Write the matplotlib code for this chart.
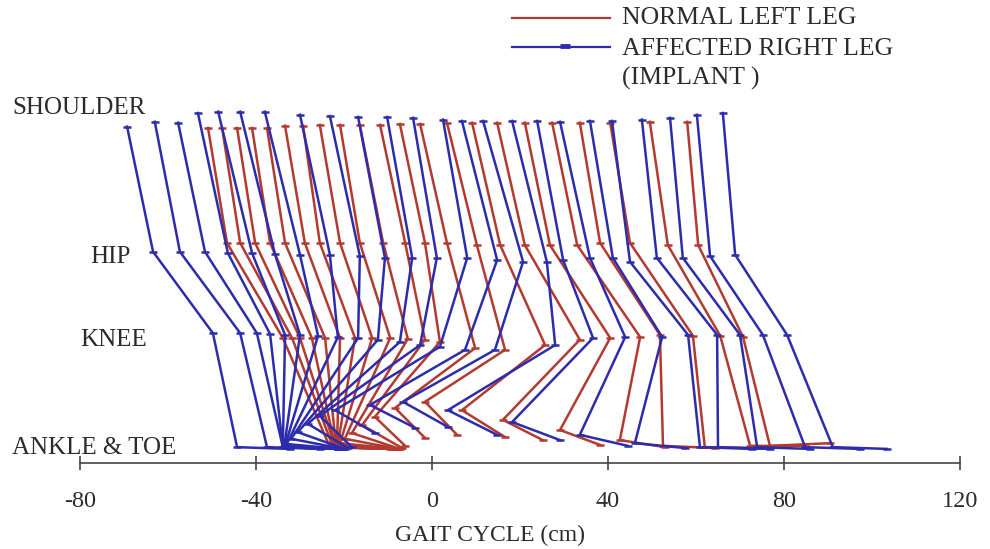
import matplotlib
matplotlib.use("Agg")
import matplotlib.pyplot as plt
from matplotlib.lines import Line2D

plt.rcParams['font.family'] = ['Liberation Serif', 'DejaVu Serif']

# x in cm along the gait cycle, y in cm of height above the axis
# affected right leg (implant) - one stick per frame: shoulder, hip, knee, ankle, toe
blue_shoulder_x = [-69.3, -63.0, -57.7, -53.2, -48.6, -43.6, -38.0, -30.0, -23.2, -16.8, -10.2, -4.3,
                   2.5, 6.8, 11.6, 18.2, 23.9, 29.1, 35.9, 40.9, 47.7, 54.1, 60.2, 66.1]
blue_shoulder_y = [76.4, 77.5, 77.3, 79.5, 79.8, 79.8, 79.8, 79.1, 78.8, 78.6, 78.6, 78.4,
                   78.0, 77.7, 77.7, 77.7, 77.7, 77.5, 77.7, 77.7, 78.0, 78.4, 79.1, 79.5]
blue_hip_x = [-63.4, -57.3, -51.6, -46.4, -40.9, -35.7, -30.0, -23.2, -16.4, -10.7, -4.5, 1.1,
              8.0, 14.8, 20.7, 26.1, 29.8, 35.9, 41.1, 45.0, 51.1, 57.0, 63.2, 68.9]
blue_hip_y = [48.0, 48.0, 48.0, 47.7, 47.7, 47.5, 47.3, 47.3, 47.0, 46.6, 46.6, 46.6,
              46.6, 46.1, 45.7, 45.7, 46.1, 46.6, 46.6, 45.7, 46.6, 46.6, 47.0, 47.3]
blue_knee_x = [-49.8, -43.6, -39.8, -36.8, -33.4, -30.0, -25.9, -21.4, -16.8, -12.3, -7.3, -2.7,
               1.8, 7.5, 14.3, 28.0, 36.6, 43.9, 52.3, 58.2, 64.8, 70.0, 75.2, 80.7]
blue_knee_y = [29.5, 29.5, 29.5, 29.3, 29.1, 29.1, 28.9, 28.6, 28.4, 28.0, 27.5, 26.8,
               26.4, 25.7, 25.7, 26.8, 28.4, 28.6, 28.6, 29.1, 29.1, 29.1, 29.1, 29.1]
blue_ankle_x = [-44.3, -37.5, -33.9, -33.9, -33.9, -33.6, -33.4, -33.0, -32.0, -30.5, -28.2, -25.5,
                -22.0, -14.1, -6.6, 3.6, 18.2, 33.6, 46.1, 60.9, 65.0, 73.9, 84.8, 91.1]
blue_ankle_y = [3.6, 3.6, 3.6, 3.6, 3.6, 3.6, 3.9, 4.3, 5.5, 7.0, 8.9, 10.7,
                12.0, 13.2, 13.9, 12.0, 9.3, 6.4, 4.5, 3.6, 3.6, 3.6, 3.6, 3.6]
blue_toe_x = [-32.3, -25.5, -21.4, -21.4, -21.4, -21.1, -20.9, -20.7, -20.2, -19.8, -19.1, -18.2,
              -13.0, -3.9, 3.6, 14.8, 29.1, 44.5, 57.5, 72.7, 76.8, 85.9, 97.3, 103.4]
blue_toe_y = [3.2, 3.2, 3.2, 3.2, 3.2, 3.2, 3.2, 3.2, 3.2, 3.2, 3.4, 3.6,
              6.8, 8.0, 8.2, 6.4, 5.2, 3.9, 3.4, 3.2, 3.2, 3.2, 3.2, 3.2]

# normal left leg
red_shoulder_x = [-50.9, -47.7, -44.3, -40.9, -37.5, -33.4, -29.3, -25.5, -20.9, -16.4, -11.8,
                  -7.3, -2.7, 3.4, 9.1, 14.8, 21.1, 27.3, 33.6, 40.5, 49.5, 58.0]
red_shoulder_y = [76.1, 76.1, 76.1, 76.1, 76.1, 76.6, 76.6, 76.8, 76.8, 76.8, 76.8,
                  77.0, 77.0, 77.3, 77.3, 77.3, 77.3, 77.3, 77.3, 77.3, 77.5, 77.5]
red_hip_x = [-46.6, -43.6, -40.2, -36.8, -33.4, -28.9, -25.5, -20.9, -16.4, -11.1, -6.1,
             -1.6, 3.4, 10.2, 15.5, 21.1, 26.8, 33.0, 38.2, 45.0, 53.6, 60.5]
red_hip_y = [50.0, 50.0, 50.0, 50.0, 50.0, 50.0, 50.0, 50.0, 50.0, 50.0, 50.0,
             50.0, 50.0, 49.5, 49.5, 49.5, 49.5, 49.5, 50.0, 50.0, 49.5, 49.5]
red_knee_x = [-33.9, -31.8, -30.0, -27.3, -24.3, -20.9, -17.5, -13.6, -9.5, -5.5, -1.6,
              1.8, 9.8, 16.6, 25.7, 33.6, 40.5, 47.3, 51.8, 59.3, 65.5, 70.7]
red_knee_y = [28.4, 28.4, 28.4, 28.4, 28.4, 28.4, 28.4, 28.4, 28.4, 28.2, 28.0,
              27.5, 26.1, 25.7, 26.8, 28.0, 28.4, 28.6, 29.1, 28.9, 28.9, 28.6]
red_ankle_x = [-23.2, -22.5, -22.0, -22.0, -21.8, -21.6, -21.4, -20.9, -19.8, -18.2, -15.9,
               -13.0, -8.4, -1.6, 6.8, 16.1, 29.1, 42.7, 52.5, 62.0, 72.3, 76.8]
red_ankle_y = [3.6, 3.6, 3.6, 3.6, 3.6, 3.9, 4.1, 4.5, 5.5, 6.8, 8.6,
               10.5, 12.5, 13.9, 12.0, 9.8, 7.5, 5.2, 3.9, 3.6, 3.9, 3.9]
red_toe_x = [-9.5, -8.9, -8.4, -8.4, -8.4, -8.2, -8.2, -8.0, -7.7, -7.3, -6.8,
             -6.1, -1.6, 5.7, 16.6, 25.2, 38.2, 53.0, 64.3, 74.5, 84.8, 90.5]
red_toe_y = [3.2, 3.2, 3.2, 3.2, 3.2, 3.2, 3.2, 3.2, 3.2, 3.2, 3.4,
             3.9, 5.7, 6.4, 5.9, 5.2, 4.1, 3.6, 3.4, 3.4, 3.9, 4.5]

x_ticks = [-80, -40, 0, 40, 80, 120]
level_names = ['SHOULDER', 'HIP', 'KNEE', 'ANKLE & TOE']

RED = '#b33a30'
BLUE = '#2c2cac'
INK = '#2b2b2b'

W, H = 990, 549
fig = plt.figure(figsize=(W / 100, H / 100), dpi=100)
ax = fig.add_axes([80 / W, 86 / H, 880 / W, 361 / H])


def draw_leg(sx, sy, hx, hy, kx, ky, axx, ayy, tx, ty, color, z):
    for i in range(len(sx)):
        xs = [sx[i], hx[i], kx[i], axx[i], tx[i]]
        ys = [sy[i], hy[i], ky[i], ayy[i], ty[i]]
        ax.plot(xs, ys, color=color, lw=1.8, marker='_', ms=6, mew=1.8,
                solid_joinstyle='round', zorder=z, clip_on=False)


draw_leg(red_shoulder_x, red_shoulder_y, red_hip_x, red_hip_y, red_knee_x, red_knee_y,
         red_ankle_x, red_ankle_y, red_toe_x, red_toe_y, RED, 2)
draw_leg(blue_shoulder_x, blue_shoulder_y, blue_hip_x, blue_hip_y, blue_knee_x, blue_knee_y,
         blue_ankle_x, blue_ankle_y, blue_toe_x, blue_toe_y, BLUE, 3)

ax.set_xlim(-80, 120)
ax.set_ylim(0, 82)
for s in ['left', 'right', 'top']:
    ax.spines[s].set_visible(False)
ax.spines['bottom'].set_color('#444444')
ax.spines['bottom'].set_linewidth(1.2)
ax.set_yticks([])
ax.set_xticks(x_ticks)
ax.set_xticklabels([str(t) for t in x_ticks])
ax.tick_params(axis='x', direction='inout', length=10, width=1.2, color='#444444',
               pad=15, labelsize=17.5, labelcolor=INK)
ax.patch.set_alpha(0)

# joint names on the left
label_pos = [(12, 108), (90, 257), (80, 340), (12, 448)]
for name, (px, py) in zip(level_names, label_pos):
    fig.text(px / W, 1 - py / H, name, ha='left', va='center', fontsize=18, color=INK)

fig.text(490 / W, 1 - 535 / H, 'GAIT CYCLE (cm)', ha='center', va='center',
         fontsize=17, color=INK)

# legend
fig.add_artist(Line2D([512 / W, 610 / W], [1 - 18 / H, 1 - 18 / H], color=RED, lw=1.6))
fig.add_artist(Line2D([512 / W, 610 / W], [1 - 47 / H, 1 - 47 / H], color=BLUE, lw=1.6))
fig.add_artist(Line2D([565 / W], [1 - 46 / H], color=BLUE, marker='_', ms=7, mew=3.5))
fig.text(622 / W, 1 - 18 / H, 'NORMAL LEFT LEG', ha='left', va='center', fontsize=18.5, color=INK)
fig.text(622 / W, 1 - 49 / H, 'AFFECTED RIGHT LEG', ha='left', va='center', fontsize=18.5, color=INK)
fig.text(622 / W, 1 - 78 / H, '(IMPLANT )', ha='left', va='center', fontsize=18.5, color=INK)

fig.savefig('out.png', dpi=100)
